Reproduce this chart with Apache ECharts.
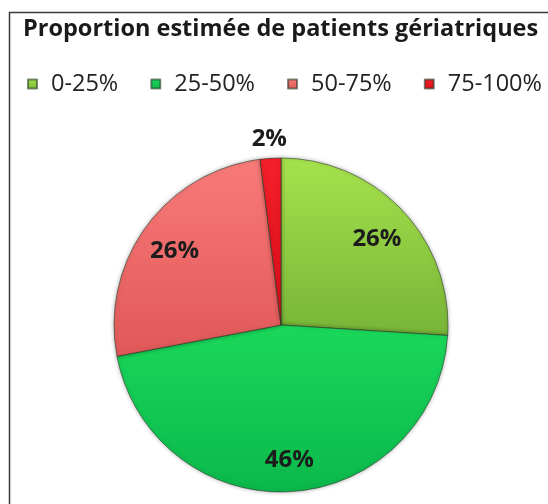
<!DOCTYPE html>
<html>
<head>
<meta charset="utf-8">
<script src="https://cdn.jsdelivr.net/npm/echarts@6/dist/echarts.min.js"></script>
<style>
html,body{margin:0;padding:0;background:#fff;}
#c{width:548px;height:504px;}
</style>
</head>
<body>
<div id="c"></div>
<script>
var titleText = 'Proportion estimée de patients gériatriques';
var categories = ['0-25%', '25-50%', '50-75%', '75-100%'];
var values = [26, 46, 26, 2];
var labels = ['26%', '46%', '26%', '2%'];

var topColors = ['#a6e24c', '#1ad85a', '#f87b79', '#f5202a'];
var bottomColors = ['#78b437', '#0bb84b', '#e05858', '#d80c16'];
var outsideLabelIdx = [3];

var chart = echarts.init(document.getElementById('c'), null, {renderer: 'canvas'});
var cx = 281, cy = 325, R = 167;

function grad(i) {
  return new echarts.graphic.LinearGradient(0, 0, 0, 1, [
    {offset: 0, color: topColors[i]},
    {offset: 1, color: bottomColors[i]}
  ]);
}

var mainData = categories.map(function (c, i) {
  return {name: c, value: values[i], itemStyle: {color: grad(i)}};
});
var labelStyle = {fontFamily: 'Open Sans', fontWeight: 'bold', fontSize: 24, color: '#1c1c1c'};
var innerLabelData = categories.map(function (c, i) {
  var show = outsideLabelIdx.indexOf(i) < 0;
  return {name: c, value: values[i], label: {show: show, formatter: labels[i]}};
});
var outerLabelData = categories.map(function (c, i) {
  var show = outsideLabelIdx.indexOf(i) >= 0;
  return {name: c, value: values[i], label: {show: show, formatter: labels[i]}};
});

var option = {
  backgroundColor: '#ffffff',
  animation: false,
  color: topColors,
  graphic: [{
    type: 'rect', shape: {x: 9.5, y: 12.5, width: 600, height: 600},
    style: {fill: 'none', stroke: '#3a3a3a', lineWidth: 1.5}, silent: true, z: 100
  }],
  title: {
    text: titleText, left: 18, top: 12,
    textStyle: {fontFamily: 'Open Sans', fontWeight: 'bold', fontSize: 23.5, color: '#1a1a1a'}
  },
  legend: {
    data: categories, left: 27, top: 72, padding: 0, itemWidth: 9, itemHeight: 9, itemGap: 32,
    icon: 'rect',
    textStyle: {fontFamily: 'Open Sans', fontSize: 23.5, color: '#222', padding: [0, 0, 0, 9], lineHeight: 24}
  },
  series: [{
    type: 'pie', center: [cx, cy], radius: R, startAngle: 90, clockwise: true,
    silent: true, label: {show: false}, labelLine: {show: false},
    itemStyle: {borderColor: 'rgba(40,60,40,0.6)', borderWidth: 1, shadowBlur: 4, shadowColor: 'rgba(0,0,0,0.3)'},
    data: mainData
  }, {
    type: 'pie', center: [cx, cy], radius: R * 0.77 * 2, startAngle: 90, clockwise: true,
    silent: true, legendHoverLink: false,
    itemStyle: {color: 'rgba(0,0,0,0)'},
    label: Object.assign({position: 'inside'}, labelStyle),
    labelLine: {show: false},
    labelLayout: {dy: 4},
    data: innerLabelData
  }, {
    type: 'pie', center: [cx, cy], radius: (R + 16) * 2, startAngle: 90, clockwise: true,
    silent: true, legendHoverLink: false,
    itemStyle: {color: 'rgba(0,0,0,0)'},
    label: Object.assign({position: 'inside'}, labelStyle),
    labelLine: {show: false},
    data: outerLabelData
  }]
};
chart.setOption(option);
</script>
</body>
</html>
